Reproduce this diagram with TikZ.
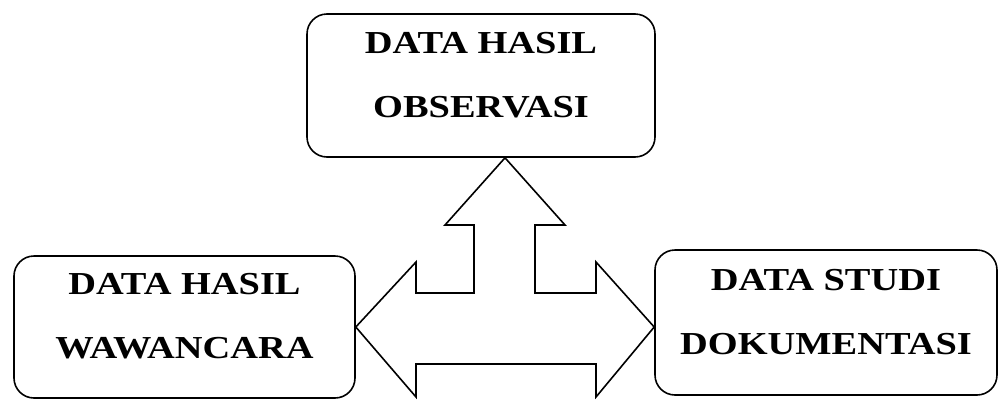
\documentclass[tikz,border=0pt]{standalone}
\usepackage{fontspec}
\setmainfont{Liberation Serif}[FakeStretch=1.2]

\newcommand{\lowpad}{\rule[-22pt]{0pt}{22pt}}

\begin{document}
\begin{tikzpicture}[x=1pt,y=-1pt,
  box/.style={draw,line width=1.6pt,rounded corners=20pt,align=center,inner sep=0pt,
    font=\bfseries\fontsize{32}{64}\selectfont},
  blockarrow/.style={draw,line width=1.6pt,line join=miter}]

\useasboundingbox (0,0) rectangle (1001,405);

% the three data boxes
  \node[box,minimum width=348,minimum height=143] (obs)   at (481,85.5)  {DATA HASIL\\OBSERVASI\lowpad};
  \node[box,minimum width=341,minimum height=142] (wwc)   at (184.5,327) {DATA HASIL\\WAWANCARA\lowpad};
  \node[box,minimum width=342,minimum height=145] (studi) at (826,322.5) {DATA STUDI\\DOKUMENTASI\lowpad};

% three-way block arrow
  \draw[blockarrow] (wwc.east) -- (416,262) -- (416,293) -- (474,293) -- (474,225) -- (445,225)
    -- (505,0 |- obs.south) -- (565,225) -- (535,225) -- (535,293) -- (596,293) -- (596,262)
    -- (studi.west |- wwc.east) -- (596,397) -- (596,364) -- (416,364) -- (416,397) -- cycle;

\end{tikzpicture}
\end{document}
